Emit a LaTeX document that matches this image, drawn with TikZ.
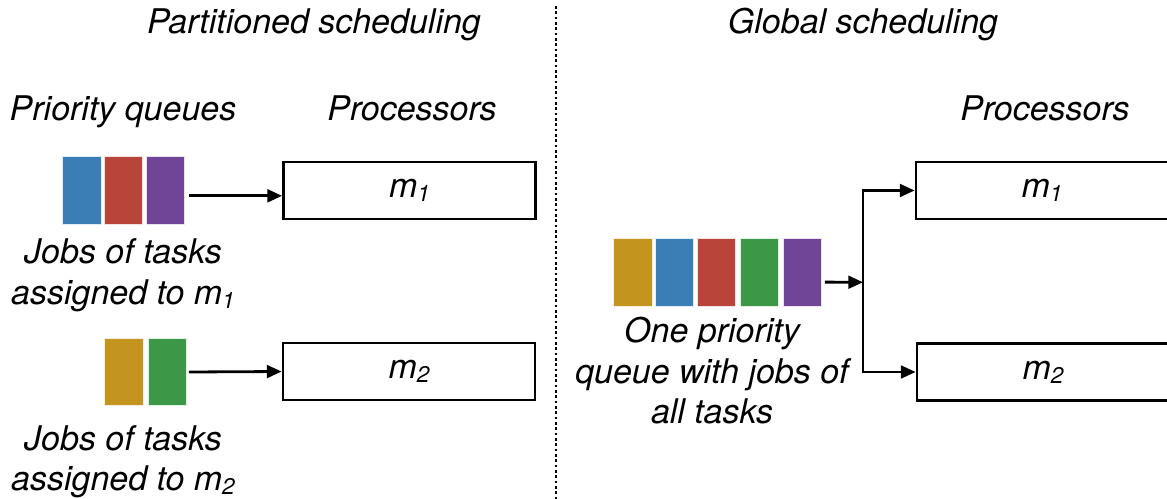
\documentclass[tikz,border=0pt]{standalone}
\usepackage{fontspec}
\setmainfont{TeX Gyre Heros}
\usetikzlibrary{arrows.meta}

% task colours
\definecolor{taskblue}{HTML}{3B7EB6}
\definecolor{taskred}{HTML}{B9443A}
\definecolor{taskpurple}{HTML}{704497}
\definecolor{taskgold}{HTML}{C3951E}
\definecolor{taskgreen}{HTML}{3C9847}

\newcommand{\procidx}[1]{{\fontsize{17}{17}\selectfont\raisebox{-3pt}{#1}}}

\begin{document}
\begin{tikzpicture}[x=0.75pt,y=-0.75pt,
  lbl/.style={anchor=base,inner sep=0pt,font=\fontsize{25.5}{30}\selectfont\itshape},
  proc/.style={draw,line width=2.1pt,minimum width=189pt,minimum height=42.75pt,
    inner sep=0pt,font=\fontsize{25.5}{30}\selectfont\itshape},
  job/.style={fill=#1,draw=white!85!#1,line width=0.6pt,minimum width=28.9pt,
    minimum height=50.5pt,inner sep=0pt},
  conn/.style={line width=2.1pt,-{Triangle[length=11pt,width=9.5pt]}},
  wire/.style={line width=2.1pt}]
\useasboundingbox (0,0) rectangle (1167,499);

% headings
\node[lbl] (hpart) at (314,34) {Partitioned scheduling};
\node[lbl] (hglob) at (863,34) {Global scheduling};
\node[lbl] (hqueues) at (123,121) {Priority queues};
\node[lbl] (hprocl) at (412,121) {Processors};
\node[lbl] (hprocr) at (1045,121) {Processors};

% separator
\draw[line width=2pt,dash pattern=on 2pt off 2pt] (556,6) -- (556,499);

% ---- partitioned side ----
\node[job=taskblue]   (a1) at (82,190.5) {};
\node[job=taskred]    (a2) at (123.5,190.5) {};
\node[job=taskpurple] (a3) at (165.5,190.5) {};
\node[job=taskgold]   (b1) at (123.7,372) {};
\node[job=taskgreen]  (b2) at (167.2,372) {};

\node[proc] (pm1) at (409.5,190.5) {m\procidx{1}};
\node[proc] (pm2) at (409,371.5) {m\procidx{2}};

\draw[conn] ([xshift=3pt,yshift=-4pt]a3.east) -- ([yshift=-4pt]pm1.west);
\draw[conn] ([xshift=1.5pt]b2.east) -- (pm2.west);

\node[lbl] (la1) at (123,263) {Jobs of tasks};
\node[lbl] (la2) at (123,304) {assigned to m\procidx{1}};
\node[lbl] (lb1) at (123,450) {Jobs of tasks};
\node[lbl] (lb2) at (123,490) {assigned to m\procidx{2}};

% ---- global side ----
\node[job=taskgold]   (g1) at (632.7,272.5) {};
\node[job=taskblue]   (g2) at (674.5,272.5) {};
\node[job=taskred]    (g3) at (716.3,272.5) {};
\node[job=taskgreen]  (g4) at (759.3,272.5) {};
\node[job=taskpurple] (g5) at (802.5,272.5) {};

\node[proc] (gm1) at (1042,190.5) {m\procidx{1}};
\node[proc] (gm2) at (1043,372) {m\procidx{2}};

\coordinate (split) at (863,282.3);
\draw[conn] ([xshift=2pt,yshift=-7.2pt]g5.east) -- (split);
\draw[wire,line cap=rect] (split |- gm1.west) -- (split |- gm2.west);
\draw[conn] (split |- gm1.west) -- (gm1.west);
\draw[conn] (split |- gm2.west) -- (gm2.west);

\node[lbl] (lg1) at (712,342) {One priority};
\node[lbl] (lg2) at (712,383) {queue with jobs of};
\node[lbl] (lg3) at (712,423) {all tasks};
\end{tikzpicture}
\end{document}
